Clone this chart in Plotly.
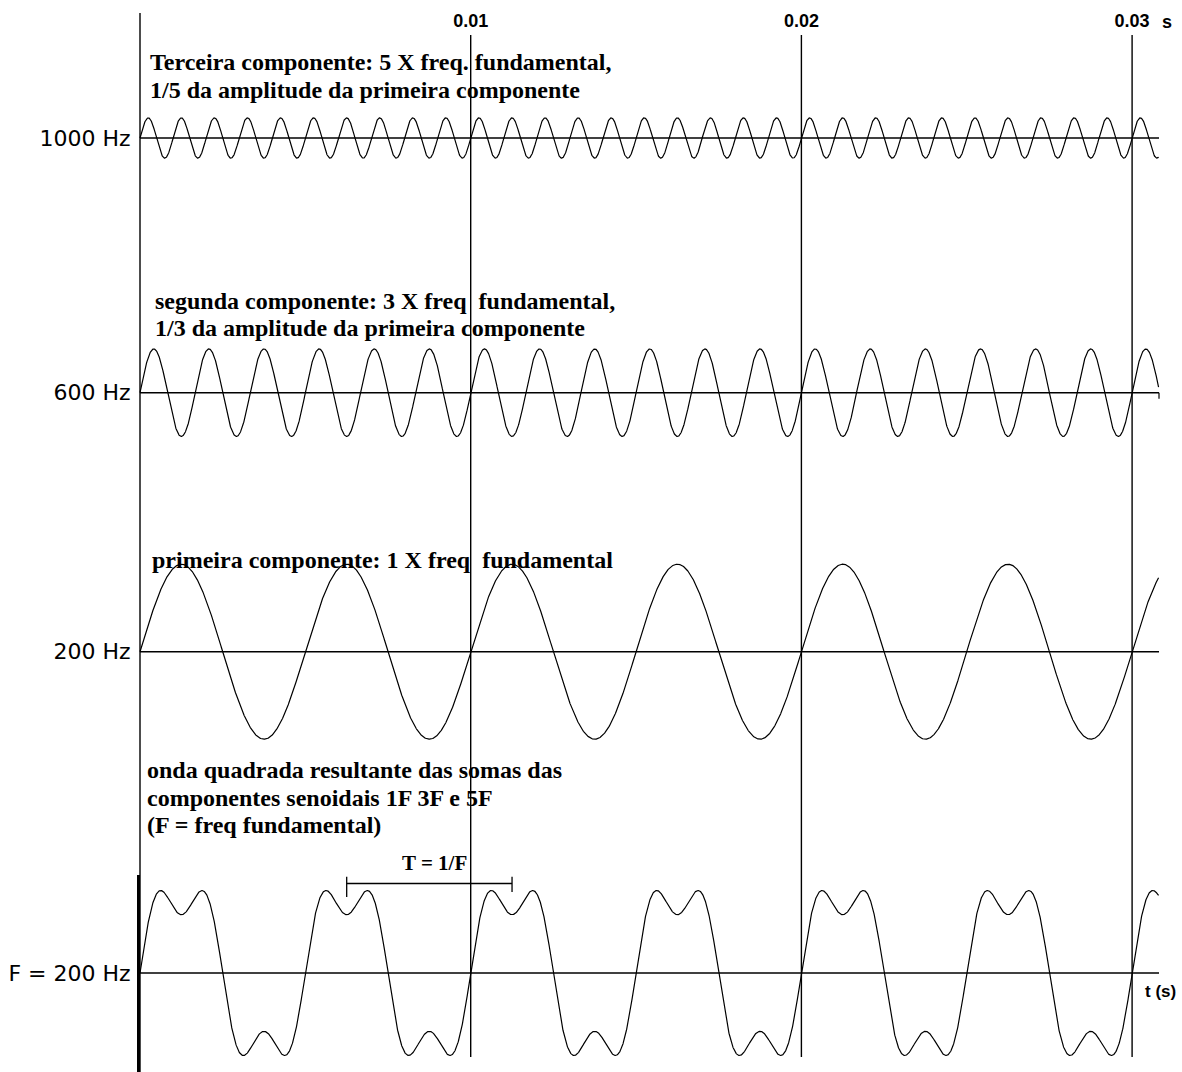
import numpy as np
import plotly.graph_objects as go

# ---- data ----
COMPONENT_LABELS = ["1000 Hz", "600 Hz", "200 Hz"]
COMPONENT_FREQS = [1000, 600, 200]          # Hz
COMPONENT_AMPS = [0.23, 0.50, 1.00]         # drawn amplitude relative to 200 Hz trace
SQUARE_LABEL = "F = 200 Hz"
SQUARE_FUND = 200                           # Hz
SQUARE_HARMONICS = [1, 3]                   # harmonics visible in the drawn sum
SQUARE_WEIGHTS = [1.0, 1 / 3]
T_END = 0.0308                              # s, end of traces
TICK_VALS = [0.01, 0.02, 0.03]
TICK_TEXT = ["0.01", "0.02", "0.03"]
PERIOD_MARK = [0.00625, 0.01125]            # T = 1/F bracket (s)

TEXTS = [
    ["Terceira componente: 5 X freq. fundamental,",
     "1/5 da amplitude da primeira componente"],
    ["segunda componente: 3 X freq  fundamental,",
     "1/3 da amplitude da primeira componente"],
    ["primeira componente: 1 X freq  fundamental"],
    ["onda quadrada resultante das somas das",
     "componentes senoidais 1F 3F e 5F",
     "(F = freq fundamental)"],
]

# ---- layout geometry (pixels) ----
W, H = 1182, 1072
PX_PER_S = 33070.0
T0_PX = 140.0
UNIT_PX = 87.5
BASE_PX = [138, 392.7, 651.7, 973]
TEXT_X_PX = [148, 153, 150, 145]
TEXT_Y_PX = [[62, 90], [301, 328], [560], [770, 798, 825]]
HALF = 1.1


def py(p):
    return 1 - p / H


def tx(p):
    return (p - T0_PX) / PX_PER_S


t = np.linspace(0, T_END, 4000)
fig = go.Figure()

series = []
for f, a in zip(COMPONENT_FREQS, COMPONENT_AMPS):
    series.append(a * np.sin(2 * np.pi * f * t))
sq = np.zeros_like(t)
for h, w in zip(SQUARE_HARMONICS, SQUARE_WEIGHTS):
    sq += w * np.sin(2 * np.pi * SQUARE_FUND * h * t)
series.append(sq)
labels = COMPONENT_LABELS + [SQUARE_LABEL]

layout_axes = {}
shapes = []
for i, (y, lab, b) in enumerate(zip(series, labels, BASE_PX)):
    yname = "y" if i == 0 else f"y{i+1}"
    key = "yaxis" if i == 0 else f"yaxis{i+1}"
    fig.add_trace(go.Scatter(x=t, y=y, mode="lines", yaxis=yname,
                             line=dict(color="black", width=1.2),
                             hoverinfo="skip", showlegend=False))
    d0 = py(b + HALF * UNIT_PX)
    d1 = py(b - HALF * UNIT_PX)
    layout_axes[key] = dict(domain=[d0, d1], range=[-HALF, HALF],
                            anchor="free", position=T0_PX / W,
                            showgrid=False, zeroline=False, showline=False,
                            tickvals=[0], ticktext=[lab], ticks="outside",
                            ticklen=5, tickcolor="rgba(0,0,0,0)",
                            tickfont=dict(family="DejaVu Sans", size=22,
                                          color="black"),
                            fixedrange=True)
    # baseline
    shapes.append(dict(type="line", xref="x", yref=yname, x0=0, x1=tx(1159),
                       y0=0, y1=0, line=dict(color="black", width=1.4)))

# end tick on 600 Hz baseline
shapes.append(dict(type="line", xref="x", yref="y2", x0=tx(1159), x1=tx(1159),
                   y0=0, y1=-6 / UNIT_PX, line=dict(color="black", width=1.2)))

# vertical time lines
shapes.append(dict(type="line", xref="x", yref="paper", x0=0, x1=0,
                   y0=py(1072), y1=py(13), line=dict(color="black", width=1.4)))
shapes.append(dict(type="line", xref="x", yref="paper", x0=tx(138.5), x1=tx(138.5),
                   y0=py(1072), y1=py(875), line=dict(color="black", width=3)))
for v in TICK_VALS:
    shapes.append(dict(type="line", xref="x", yref="paper", x0=v, x1=v,
                       y0=py(1057), y1=py(35), line=dict(color="black", width=1.4)))

# T = 1/F bracket on the square wave panel
bracket_y = (973 - 883.5) / UNIT_PX
shapes.append(dict(type="line", xref="x", yref="y4", x0=PERIOD_MARK[0], x1=PERIOD_MARK[1],
                   y0=bracket_y, y1=bracket_y, line=dict(color="black", width=1.3)))
for xm, (ya, yb) in zip(PERIOD_MARK, [(870.5, 897), (869.5, 892)]):
    shapes.append(dict(type="line", xref="x", yref="y4", x0=xm, x1=xm,
                       y0=(973 - ya) / UNIT_PX, y1=(973 - yb) / UNIT_PX,
                       line=dict(color="black", width=1.3)))

annotations = []
serif = dict(family="Liberation Serif", size=24, color="black", weight="bold")
for lines, xp, yps in zip(TEXTS, TEXT_X_PX, TEXT_Y_PX):
    for line, ypx in zip(lines, yps):
        annotations.append(dict(text=line, x=tx(xp), y=py(ypx), xref="x", yref="paper",
                                xanchor="left", yanchor="middle", showarrow=False,
                                font=serif))
annotations.append(dict(text="T = 1/F", x=tx(434), y=py(863), xref="x", yref="paper",
                        xanchor="center", yanchor="middle", showarrow=False,
                        font=dict(family="Liberation Serif", size=21, color="black",
                                  weight="bold")))
annotations.append(dict(text="t (s)", x=tx(1143), y=py(991), xref="x", yref="paper",
                        xanchor="left", yanchor="middle", showarrow=False,
                        font=dict(family="Liberation Sans", size=17, color="black",
                                  weight="bold")))
annotations.append(dict(text="s", x=tx(1160), y=py(22), xref="x", yref="paper",
                        xanchor="left", yanchor="middle", showarrow=False,
                        font=dict(family="Liberation Sans", size=18, color="black",
                                  weight="bold")))

fig.update_layout(
    width=W, height=H,
    margin=dict(l=0, r=0, t=0, b=0),
    paper_bgcolor="white", plot_bgcolor="white",
    showlegend=False,
    xaxis=dict(range=[tx(0), tx(W)], side="top", anchor="free", position=py(31),
               tickvals=TICK_VALS, ticktext=TICK_TEXT, ticks="",
               showgrid=False, zeroline=False, showline=False,
               tickfont=dict(family="Liberation Sans", size=18, color="black",
                             weight="bold"),
               fixedrange=True),
    shapes=shapes,
    annotations=annotations,
    **layout_axes,
)

fig.write_html("out.html")
